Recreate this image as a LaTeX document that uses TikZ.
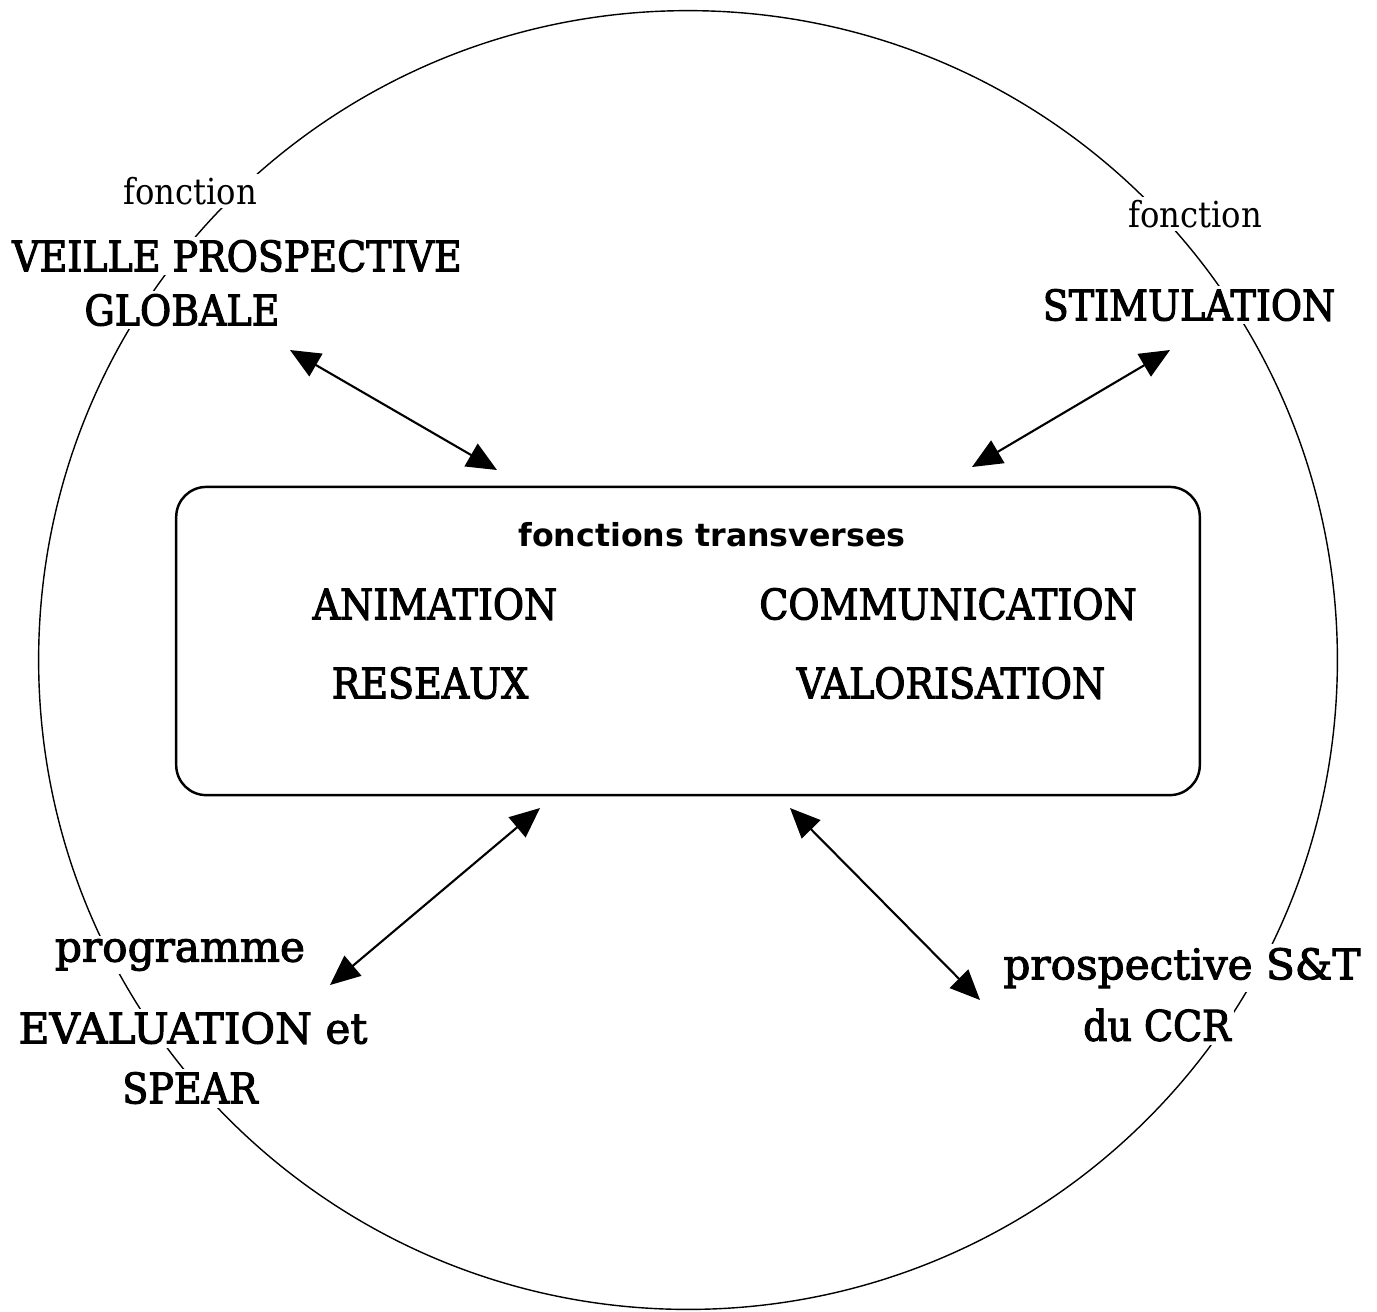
\documentclass[tikz,border=0pt]{standalone}
\usepackage{fontspec}
\newfontfamily\slabfont[FakeStretch=0.9, FakeBold=2.5]{DejaVu Serif}
\newfontfamily\wideslabfont[FakeStretch=1.0, FakeBold=2.5]{DejaVu Serif}
\newfontfamily\lightslabfont[FakeStretch=0.9]{DejaVu Serif}
\newfontfamily\boxfont{DejaVu Sans}
\usetikzlibrary{arrows.meta, positioning, graphs}

\begin{document}
\begin{tikzpicture}[x=0.01cm, y=-0.01cm,
    big/.style={fill=white, inner sep=1pt, font=\slabfont\fontsize{12}{14}\selectfont},
    wide/.style={big, font=\wideslabfont\fontsize{12}{14}\selectfont},
    small/.style={fill=white, inner sep=1pt, font=\lightslabfont\fontsize{10.2}{12}\selectfont},
    >={Triangle[length=3mm, width=2.6mm]}]
    \useasboundingbox (0,0) rectangle (1377,1311);
    % outer ring
    \draw[line width=0.4pt] (688,660) circle[radius=6.49cm];

    % transverse functions
    \node[draw, line width=0.7pt, rounded corners=3mm, minimum width=10.23cm, minimum height=3.08cm] (transverse box) at (688,641) {};
    \node[font=\boxfont\bfseries\fontsize{9}{11}\selectfont] (transverse title) at (712,535) {fonctions transverses};
    \node[big] (animation) at (435,604) {ANIMATION};
    \node[big] (reseaux) at (430,683) {RESEAUX};
    \node[big] (communication) at (948,604) {COMMUNICATION};
    \node[big] (valorisation) at (951,683) {VALORISATION};

    % functions round the ring
    \node[small] (fonction 1) at (190,191) {fonction};
    \node[big] (veille) at (237,256) {VEILLE PROSPECTIVE};
    \node[big] (globale) at (182,310) {GLOBALE};
    \node[small] (fonction 2) at (1195,214) {fonction};
    \node[big] (stimulation) at (1189,305) {STIMULATION};
    \node[wide] (programme) at (180,955) {programme};
    \node[wide] (evaluation) at (193,1028) {EVALUATION et};
    \node[big] (spear) at (190,1088) {SPEAR};
    \node[wide] (prospective) at (1182,968) {prospective S\&T};
    \node[big] (ccr) at (1157,1025) {du CCR};

    % arrow ends
    \coordinate (veille end) at (290,350);
    \coordinate (box nw) at (497,470);
    \coordinate (stimulation end) at (1170,350);
    \coordinate (box ne) at (972,467);
    \coordinate (box sw) at (540,808);
    \coordinate (evaluation end) at (330,985);
    \coordinate (box se) at (790,808);
    \coordinate (prospective end) at (980,1000);

    \graph[edges={line width=0.6pt}]{(veille end) <-> (box nw);
    (stimulation end) <-> (box ne);
    (box sw) <-> (evaluation end);
    (box se) <-> (prospective end)};
\end{tikzpicture}
\end{document}
